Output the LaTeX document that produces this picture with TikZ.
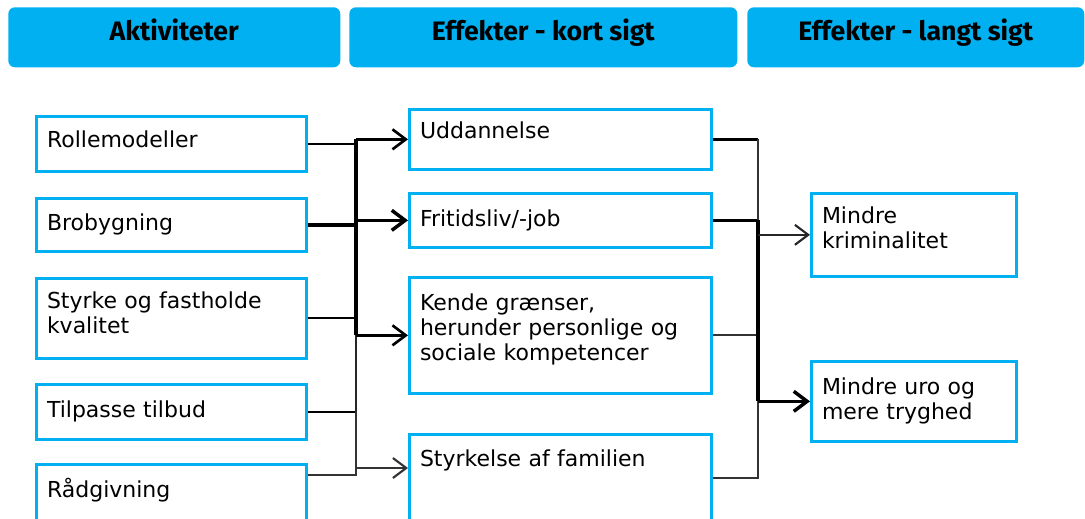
\documentclass[tikz,border=0pt]{standalone}
\usepackage{fontspec}
\setmainfont{DejaVu Sans}
\newfontfamily\headfont{Fira Sans}
\usetikzlibrary{arrows.meta}
\definecolor{skyblue}{RGB}{0,176,240}

\begin{document}
\begin{tikzpicture}[x=0.75pt, y=-0.75pt,
    head/.style={rectangle, fill=skyblue, rounded corners=5pt, anchor=north west, minimum height=45pt, text height=12pt, text depth=7.2pt, font=\headfont\bfseries\fontsize{20}{24}\selectfont},
    box/.style={rectangle, draw=skyblue, line width=2pt, anchor=north west, align=left, inner xsep=8pt, font=\fontsize{16.5}{18.75}\selectfont},
    actbox/.style={box, text width=186.5pt},
    shortbox/.style={box, text width=210.5pt},
    longbox/.style={box, text width=137.75pt},
    link/.style={line width=2pt},
    flow/.style={link, -{Straight Barb[length=10pt, width=15pt]}}
]
\useasboundingbox (0,0) rectangle (1085,518);

% Column headers
\node[head, minimum width=249pt] (hact) at (8,7) {Aktiviteter};
\node[head, minimum width=291pt] (hshort) at (349,7) {Effekter - kort sigt};
\node[head, minimum width=252.75pt] (hlong) at (747,7) {Effekter - langt sigt};

% Activities
\node[actbox, minimum height=41.25pt, text depth=7pt] (rolle) at (35,115) {Rollemodeller};
\node[actbox, minimum height=39.75pt] (bro) at (35,197) {Brobygning};
\node[actbox, minimum height=60pt, text depth=27pt] (styrke) at (35,277) {Styrke og fastholde\\kvalitet};
\node[actbox, minimum height=41.25pt] (tilpas) at (35,383) {Tilpasse tilbud};
\node[actbox, inner ysep=14.5pt, text height=10pt, text depth=40pt] (raad) at (35,463) {Rådgivning};

% Short term effects
\node[shortbox, minimum height=45pt, text depth=14pt] (udd) at (408,108) {Uddannelse};
\node[shortbox, minimum height=40.5pt] (fri) at (408,192) {Fritidsliv/-job};
\node[shortbox, minimum height=87pt, text depth=50pt] (graense) at (408,276) {Kende grænser,\\herunder personlige og\\sociale kompetencer};
\node[shortbox, inner ysep=14pt, text height=10pt, text depth=40pt] (familie) at (408,433) {Styrkelse af familien};

% Long term effects
\node[longbox, minimum height=62.25pt, text depth=30pt] (krim) at (810,192) {Mindre\\kriminalitet};
\node[longbox, minimum height=60pt] (tryg) at (810,360) {Mindre uro og\\mere tryghed};

% Bus lines
\coordinate (lbus) at (356,0);
\coordinate (rbus) at (758,0);
\coordinate (raadout) at ([yshift=-9pt]raad.north east);
\coordinate (famin) at ([yshift=-26.25pt]familie.north west);
\coordinate (famout) at ([yshift=-33.75pt]familie.north east);

% Activities to the bus
\draw[link] (rolle.east) -- (rolle.east -| lbus);
\draw[link, line width=2.8pt] (bro.east) -- (bro.east -| lbus);
\draw[link, line width=1.3pt] (styrke.east) -- (styrke.east -| lbus);
\draw[link] (tilpas.east) -- (tilpas.east -| lbus);
\draw[link, line width=1.8pt, black!80] (raadout) -- (raadout -| lbus) -- (tilpas.east -| lbus);
\draw[link, line width=3pt] (udd.west -| lbus) -- (graense.west -| lbus);
\draw[link, black!85] (graense.west -| lbus) -- (tilpas.east -| lbus);

% Bus to short term effects
\draw[flow] (udd.west -| lbus) -- (udd.west);
\draw[flow, line width=2.6pt] (fri.west -| lbus) -- (fri.west);
\draw[flow] (graense.west -| lbus) -- (graense.west);
\draw[flow, line width=1.6pt, black!80] (famin -| lbus) -- (famin);

% Short term to long term effects
\draw[link] (udd.east) -- (udd.east -| rbus);
\draw[link, line width=2.6pt] (fri.east) -- (fri.east -| rbus);
\draw[link, line width=1.6pt, black!80] (graense.east) -- (graense.east -| rbus);
\draw[link, line width=1.6pt, black!80] (famout) -- (famout -| rbus) -- (tryg.west -| rbus);
\draw[link, line width=1.6pt, black!80] (udd.east -| rbus) -- (fri.east -| rbus);
\draw[link, line width=2.8pt] (fri.east -| rbus) -- (tryg.west -| rbus);
\draw[flow, line width=1.6pt, black!85] (krim.west -| rbus) -- (krim.west);
\draw[flow, line width=2.6pt] (tryg.west -| rbus) -- (tryg.west);

\end{tikzpicture}
\end{document}
